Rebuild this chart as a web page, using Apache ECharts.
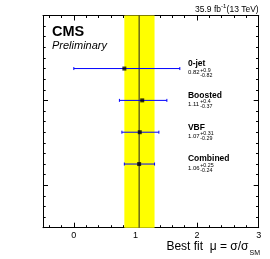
<!DOCTYPE html>
<html>
<head>
<meta charset="utf-8">
<script src="https://cdn.jsdelivr.net/npm/echarts@6/dist/echarts.min.js"></script>
<style>
html,body{margin:0;padding:0;background:#fff;}
#chart{width:270px;height:259px;}
</style>
</head>
<body>
<div id="chart"></div>
<script>
// ---- data ----
const categories = ['0-jet', 'Boosted', 'VBF', 'Combined'];
const muValues = [0.82, 1.11, 1.07, 1.06];
const errUp = [0.9, 0.4, 0.31, 0.25];
const errDown = [0.82, 0.37, 0.29, 0.24];
const valueLabels = ['0.82', '1.11', '1.07', '1.06'];
const upLabels = ['+0.9', '+0.4', '+0.31', '+0.25'];
const downLabels = ['-0.82', '-0.37', '-0.29', '-0.24'];
const rowY = [15, 12, 9, 6];
const xTickLabels = [0, 1, 2, 3];
const yMajorTicks = [4, 12, 20];
const combinedIndex = 3;

// ---- layout / style ----
const FONT = 'Liberation Sans, Arial, Helvetica, sans-serif';
const X_MIN = -0.5, X_MAX = 3, Y_MIN = 0, Y_MAX = 20;
const gridRect = { left: 43, top: 15.5, width: 215.7, height: 212.2 };
const LABEL_X = 1.852;
const frameStyle = { color: '#000', width: 1 };

const xMinor = [];
for (let k = -2; k <= 15; k++) { const v = Math.round(k * 20) / 100; if (Math.abs(v - Math.round(v)) > 1e-6) xMinor.push(v); }
const yMinor = [];
for (let k = 1; k < 20; k++) if (yMajorTicks.indexOf(k) < 0) yMinor.push(k);

function xAx(grid, pos, ticks, len, labels) {
  return {
    type: 'value', gridIndex: grid, position: pos, min: X_MIN, max: X_MAX,
    axisLine: { show: grid === 0, onZero: false, lineStyle: frameStyle },
    axisTick: { show: true, inside: true, length: len, customValues: ticks, lineStyle: frameStyle },
    axisLabel: labels ? { show: true, customValues: labels, fontSize: 9, color: '#000', fontFamily: FONT, margin: 3 } : { show: false },
    splitLine: { show: false }
  };
}
function yAx(grid, pos, ticks, len) {
  return {
    type: 'value', gridIndex: grid, position: pos, min: Y_MIN, max: Y_MAX,
    axisLine: { show: grid === 0, onZero: false, lineStyle: frameStyle },
    axisTick: { show: true, inside: true, length: len, customValues: ticks, lineStyle: frameStyle },
    axisLabel: { show: false },
    splitLine: { show: false }
  };
}

const chart = echarts.init(document.getElementById('chart'), null, { renderer: 'canvas' });

const option = {
  animation: false,
  backgroundColor: '#fff',
  grid: [Object.assign({}, gridRect), Object.assign({}, gridRect)],
  xAxis: [
    xAx(0, 'bottom', xTickLabels, 5, xTickLabels),
    xAx(0, 'top', xTickLabels, 5, null),
    xAx(1, 'bottom', xMinor, 2.5, null),
    xAx(1, 'top', xMinor, 2.5, null)
  ],
  yAxis: [
    yAx(0, 'left', yMajorTicks, 5),
    yAx(0, 'right', yMajorTicks, 5),
    yAx(1, 'left', yMinor, 2.7),
    yAx(1, 'right', yMinor, 2.7)
  ],
  graphic: [
    { type: 'text', left: 52, top: 24.5, style: { text: 'CMS', font: 'bold 14.5px ' + FONT, fill: '#000' } },
    { type: 'text', left: 52, top: 40.5, style: { text: 'Preliminary', font: 'italic 11px ' + FONT, fill: '#000' } },
    { type: 'text', x: 221, y: 9.5, style: { text: '35.9 fb', font: '8.5px ' + FONT, fill: '#000', align: 'right', verticalAlign: 'middle' } },
    { type: 'text', x: 221, y: 6.5, style: { text: '-1', font: '6px ' + FONT, fill: '#000', align: 'left', verticalAlign: 'middle' } },
    { type: 'text', x: 258.7, y: 9.5, style: { text: '(13 TeV)', font: '8.5px ' + FONT, fill: '#000', align: 'right', verticalAlign: 'middle' } },
    { type: 'text', x: 248.5, y: 247, style: { text: 'Best fit  μ = σ/σ', font: '12px ' + FONT, fill: '#000', align: 'right', verticalAlign: 'middle' } },
    { type: 'text', x: 249.5, y: 253, style: { text: 'SM', font: '7px ' + FONT, fill: '#000', align: 'left', verticalAlign: 'middle' } }
  ],
  series: [
    {
      type: 'custom', xAxisIndex: 0, yAxisIndex: 0, z: 1, silent: true,
      data: [[muValues[combinedIndex] - errDown[combinedIndex], muValues[combinedIndex] + errUp[combinedIndex], muValues[combinedIndex]]],
      renderItem: function (params, api) {
        const a = api.coord([api.value(0), Y_MAX]);
        const b = api.coord([api.value(1), Y_MIN]);
        const c1 = api.coord([api.value(2), Y_MAX]);
        const c2 = api.coord([api.value(2), Y_MIN]);
        return {
          type: 'group', children: [
            { type: 'rect', shape: { x: a[0], y: a[1], width: b[0] - a[0], height: b[1] - a[1] }, style: { fill: '#ffff00' } },
            { type: 'line', shape: { x1: c1[0], y1: c1[1], x2: c2[0], y2: c2[1] }, style: { stroke: '#222', lineWidth: 1 } }
          ]
        };
      }
    },
    {
      type: 'custom', xAxisIndex: 0, yAxisIndex: 0, z: 2, silent: true,
      data: categories.map((c, i) => [muValues[i] - errDown[i], muValues[i] + errUp[i], rowY[i]]),
      renderItem: function (params, api) {
        const p1 = api.coord([api.value(0), api.value(2)]);
        const p2 = api.coord([api.value(1), api.value(2)]);
        const st = { stroke: '#0000ff', lineWidth: 1 };
        const h = 1.5;
        return {
          type: 'group', children: [
            { type: 'line', shape: { x1: p1[0], y1: p1[1], x2: p2[0], y2: p2[1] }, style: st },
            { type: 'line', shape: { x1: p1[0], y1: p1[1] - h, x2: p1[0], y2: p1[1] + h }, style: st },
            { type: 'line', shape: { x1: p2[0], y1: p2[1] - h, x2: p2[0], y2: p2[1] + h }, style: st }
          ]
        };
      }
    },
    {
      type: 'scatter', xAxisIndex: 0, yAxisIndex: 0, z: 3, silent: true,
      symbol: 'rect', symbolSize: 4, itemStyle: { color: '#000' },
      data: categories.map((c, i) => [muValues[i], rowY[i]])
    },
    {
      type: 'custom', xAxisIndex: 0, yAxisIndex: 0, z: 4, silent: true,
      data: categories.map((c, i) => [LABEL_X, rowY[i], i]),
      renderItem: function (params, api) {
        const i = api.value(2);
        const p = api.coord([api.value(0), api.value(1)]);
        return {
          type: 'group', children: [
            { type: 'text', x: p[0], y: p[1] - 5, style: { text: categories[i], font: 'bold 8.5px ' + FONT, fill: '#000', align: 'left', verticalAlign: 'middle' } },
            { type: 'text', x: p[0], y: p[1] + 4, style: { text: valueLabels[i], font: '6px ' + FONT, fill: '#000', align: 'left', verticalAlign: 'middle' } },
            { type: 'text', x: p[0] + 12.3, y: p[1] + 1.6, style: { text: upLabels[i], font: '5.3px ' + FONT, fill: '#000', align: 'left', verticalAlign: 'middle' } },
            { type: 'text', x: p[0] + 12.3, y: p[1] + 6.6, style: { text: downLabels[i], font: '5.3px ' + FONT, fill: '#000', align: 'left', verticalAlign: 'middle' } }
          ]
        };
      }
    }
  ]
};
chart.setOption(option);
</script>
</body>
</html>
